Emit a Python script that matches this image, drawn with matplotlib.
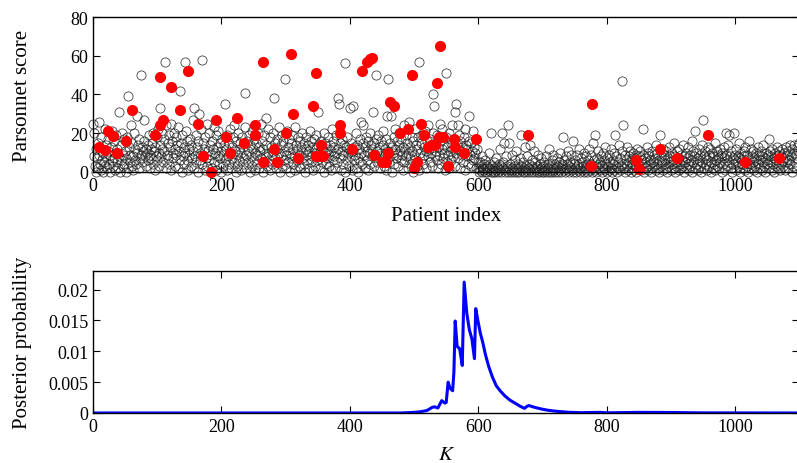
import matplotlib
matplotlib.use('Agg')
import matplotlib.pyplot as plt

plt.rcParams['font.family'] = ['Liberation Serif', 'DejaVu Serif']
plt.rcParams['mathtext.fontset'] = 'stix'

# Puntuación Parsonnet de cada paciente (índice = posición en la lista)
scores = [
    25, 8, 20, 3, 0, 12, 7, 2, 15, 9, 26, 4, 1, 18, 6, 0, 10, 5, 22, 3, 14, 8, 2, 11, 17,
    4, 9, 0, 13, 6, 21, 3, 16, 7, 1, 10, 19, 5, 12, 2, 8, 31, 0, 14, 6, 20, 3, 9, 17, 4,
    11, 0, 7, 18, 2, 39, 13, 5, 9, 24, 3, 15, 8, 1, 20, 6, 12, 4, 29, 10, 14, 2, 17, 7, 50,
    9, 13, 5, 11, 16, 27, 8, 12, 3, 10, 14, 6, 19, 9, 2, 12, 7, 15, 4, 20, 11, 1, 13, 8, 18,
    6, 22, 10, 3, 33, 14, 8, 20, 12, 5, 17, 11, 57, 2, 24, 9, 15, 7, 19, 4, 13, 25, 1, 16, 10,
    7, 20, 3, 12, 18, 9, 14, 2, 23, 11, 6, 42, 15, 0, 19, 8, 13, 4, 57, 10, 21, 6, 16, 1, 12,
    9, 17, 3, 14, 7, 27, 11, 2, 33, 8, 19, 5, 13, 16, 0, 30, 10, 6, 22, 58, 4, 15, 9, 12, 1,
    18, 7, 25, 3, 11, 20, 6, 14, 0, 9, 16, 2, 12, 23, 5, 10, 19, 1, 13, 8, 21, 4, 15, 7, 11,
    0, 17, 9, 3, 14, 35, 6, 12, 1, 19, 8, 15, 4, 10, 22, 2, 13, 7, 18, 5, 24, 11, 0, 16, 9,
    3, 20, 12, 6, 15, 1, 10, 18, 4, 13, 7, 23, 41, 9, 2, 16, 11, 5, 19, 0, 14, 8, 21, 3, 12,
    6, 17, 10, 1, 15, 9, 4, 20, 13, 2, 11, 7, 25, 16, 0, 12, 5, 19, 8, 14, 28, 3, 10, 22, 6,
    18, 1, 13, 9, 4, 20, 11, 38, 7, 15, 2, 12, 17, 5, 10, 23, 0, 14, 8, 19, 3, 16, 6, 11, 48,
    9, 2, 21, 13, 5, 17, 0, 10, 15, 7, 19, 4, 12, 8, 23, 1, 14, 6, 11, 18, 3, 9, 16, 2, 13,
    7, 20, 10, 4, 15, 0, 12, 18, 6, 9, 14, 2, 11, 21, 5, 16, 8, 13, 1, 17, 10, 3, 12, 19, 6,
    14, 31, 9, 2, 11, 16, 5, 13, 8, 20, 0, 10, 15, 4, 12, 7, 18, 3, 9, 14, 1, 11, 22, 6, 16,
    8, 13, 2, 10, 19, 5, 12, 38, 35, 7, 15, 1, 11, 17, 4, 9, 14, 0, 56, 13, 6, 18, 10, 3, 12,
    33, 8, 15, 1, 11, 34, 6, 13, 9, 20, 2, 14, 7, 0, 12, 17, 5, 10, 26, 4, 24, 15, 9, 2, 13,
    18, 6, 11, 16, 1, 10, 20, 4, 14, 8, 12, 31, 3, 15, 9, 50, 17, 5, 11, 19, 7, 13, 2, 16, 10,
    6, 14, 21, 3, 12, 9, 17, 1, 29, 48, 11, 5, 15, 8, 29, 13, 0, 10, 18, 4, 12, 22, 7, 16, 9,
    3, 14, 20, 11, 6, 17, 9, 1, 13, 24, 5, 12, 19, 8, 15, 2, 10, 26, 7, 13, 4, 18, 11, 0, 16,
    9, 22, 6, 14, 3, 12, 18, 1, 57, 10, 25, 15, 7, 19, 4, 13, 9, 21, 11, 2, 16, 8, 24, 12, 5,
    17, 10, 14, 3, 20, 40, 34, 8, 15, 11, 6, 19, 2, 13, 9, 25, 16, 4, 12, 22, 7, 14, 10, 1, 51,
    18, 5, 13, 9, 20, 2, 11, 15, 6, 24, 12, 8, 17, 3, 31, 10, 35, 14, 24, 7, 19, 2, 16, 11, 9,
    13, 5, 18, 10, 22, 1, 14, 8, 12, 4, 16, 29, 9, 15, 3, 11, 21, 6, 13, 7, 10, 17, 2, 12, 5,
    2, 0, 5, 1, 3, 0, 8, 2, 1, 4, 0, 6, 2, 3, 0, 1, 10, 2, 4, 0, 20, 3, 1, 0, 5,
    2, 0, 7, 1, 3, 2, 0, 4, 12, 1, 0, 3, 20, 2, 5, 15, 0, 1, 8, 3, 2, 24, 0, 15, 1,
    4, 0, 2, 9, 1, 3, 0, 6, 2, 11, 0, 1, 4, 2, 0, 7, 3, 19, 1, 0, 5, 2, 13, 0, 3,
    1, 8, 0, 2, 4, 14, 1, 0, 3, 6, 2, 0, 11, 1, 5, 2, 0, 3, 9, 1, 0, 4, 2, 7, 0,
    3, 1, 5, 0, 2, 8, 1, 0, 4, 2, 12, 0, 3, 1, 6, 0, 2, 9, 1, 4, 0, 2, 7, 3, 0,
    5, 1, 10, 2, 0, 4, 3, 18, 1, 6, 0, 2, 8, 4, 1, 11, 0, 3, 5, 2, 9, 1, 0, 16, 4,
    2, 6, 0, 3, 9, 1, 4, 12, 0, 2, 7, 1, 5, 3, 0, 10, 2, 8, 1, 4, 0, 6, 3, 12, 1,
    4, 9, 0, 2, 15, 6, 1, 19, 3, 0, 7, 2, 11, 4, 1, 5, 8, 0, 3, 10, 2, 6, 1, 13, 4,
    0, 7, 3, 9, 1, 5, 12, 2, 0, 6, 4, 10, 1, 19, 3, 8, 0, 5, 2, 14, 1, 7, 3, 11, 47,
    4, 24, 2, 9, 0, 6, 13, 3, 1, 8, 5, 11, 2, 0, 7, 4, 10, 1, 6, 3, 9, 0, 12, 5, 2,
    8, 3, 11, 1, 6, 4, 9, 22, 0, 5, 7, 2, 13, 3, 10, 1, 8, 4, 6, 0, 11, 2, 5, 9, 3,
    7, 1, 14, 4, 10, 2, 6, 0, 19, 3, 8, 5, 12, 1, 9, 4, 6, 2, 11, 0, 7, 3, 13, 5, 8,
    1, 10, 4, 6, 2, 15, 0, 8, 3, 11, 5, 7, 1, 12, 4, 9, 2, 6, 14, 3, 0, 8, 5, 10, 2,
    7, 4, 13, 1, 9, 3, 6, 16, 0, 11, 5, 8, 21, 2, 10, 4, 7, 1, 12, 6, 3, 9, 0, 14, 5,
    27, 8, 2, 11, 4, 7, 1, 13, 6, 9, 3, 12, 0, 5, 10, 2, 8, 4, 15, 1, 6, 11, 3, 7, 9,
    2, 12, 5, 8, 0, 10, 4, 7, 13, 1, 9, 20, 3, 6, 14, 19, 5, 8, 2, 11, 0, 7, 4, 20, 6,
    9, 1, 12, 5, 8, 3, 15, 0, 7, 10, 4, 6, 2, 11, 8, 1, 13, 5, 3, 9, 0, 16, 6, 4, 12,
    2, 8, 5, 11, 1, 7, 3, 10, 6, 0, 13, 4, 9, 2, 6, 11, 1, 8, 5, 14, 3, 7, 0, 10, 4,
    6, 9, 17, 2, 11, 5, 8, 1, 12, 4, 7, 0, 10, 3, 6, 13, 2, 9, 5, 11, 1, 8, 4, 12, 6,
    3, 10, 7, 1, 13, 5, 9, 2, 11, 6, 14, 4, 8, 0, 12, 3, 10, 14, 5, 9, 2, 13, 7, 11, 15,
]

# Pacientes marcados en rojo (índice y puntuación)
red_idx = [10, 19, 24, 31, 38, 52, 60, 97, 104, 104, 109, 122, 135, 148, 164, 172,
           184, 191, 207, 214, 225, 235, 252, 253, 264, 265, 282, 287, 301, 309,
           311, 319, 343, 348, 355, 347, 354, 358, 384, 385, 404, 419, 426, 431,
           434, 437, 450, 457, 460, 463, 468, 478, 491, 496, 500, 505, 511, 515,
           521, 527, 532, 536, 541, 539, 545, 553, 562, 564, 578, 596, 677, 775,
           777, 846, 850, 883, 909, 958, 1015, 1069]
red_score = [13, 11.5, 21, 18.5, 10, 16, 32, 19, 49, 24, 27, 44, 32, 52, 25, 8,
             0, 27, 18, 10, 28, 15, 24, 19, 57, 5, 12, 5, 20, 61,
             30, 7, 34, 51, 14, 8, 8, 8, 24, 20, 12, 52, 57, 58.5,
             59, 9, 5, 5, 10, 36, 34, 20, 22, 50, 2, 5, 25, 19,
             13, 14, 14, 46, 65, 18, 18, 3, 17, 13, 10, 17, 19, 3,
             35, 6, 1.5, 12, 7, 19, 5, 7]

# Probabilidad posterior de K
K_vals = [0, 480, 490, 500, 510, 520, 528, 532, 537, 543, 548, 550, 553, 556,
          560, 562, 564, 567, 571, 575, 578, 582, 586, 590, 594, 596, 600, 603,
          607, 611, 616, 622, 628, 634, 641, 649, 657, 665, 672, 676, 679, 688,
          698, 708, 719, 740, 760, 790, 800, 850, 900, 950, 1100]
post_vals = [0, 0, 0.00005, 0.0001, 0.0002, 0.0004, 0.0009, 0.001, 0.0008, 0.002,
             0.0016, 0.0017, 0.005, 0.004, 0.0036, 0.0066, 0.0149, 0.0108, 0.0104,
             0.0077, 0.0212, 0.0162, 0.0135, 0.012, 0.0088, 0.0169, 0.0146, 0.013,
             0.0114, 0.0095, 0.0076, 0.0058, 0.0044, 0.0036, 0.0028, 0.0021,
             0.0016, 0.0011, 0.00075, 0.0011, 0.0012, 0.0009, 0.00065, 0.00045,
             0.0003, 0.00012, 0.00005, 0.0001, 0.00003, 0.0001, 0.00008, 0.00002, 0]

fig = plt.figure(figsize=(7.97, 4.64), dpi=100)
ax1 = fig.add_axes([0.1167, 0.6272, 0.8863, 0.334])
ax2 = fig.add_axes([0.1167, 0.1078, 0.8863, 0.306])

# Panel superior: puntuaciones
ax1.plot(range(len(scores)), scores, 'o', mfc='none', mec='#222222', mew=0.5,
         ms=6.6, clip_on=False)
ax1.plot(red_idx, red_score, 'o', color='red', mec='red', ms=7, clip_on=False)
ax1.set_xlim(0, 1100)
ax1.set_ylim(0, 80)
ax1.set_yticks([0, 20, 40, 60, 80])
ax1.set_xticks([0, 200, 400, 600, 800, 1000])
ax1.set_xlabel('Patient index', fontsize=15)
ax1.set_ylabel('Parsonnet score', fontsize=15)
ax1.xaxis.set_label_coords(0.5, -0.22)
ax1.yaxis.set_label_coords(-0.087, 0.5)

# Panel inferior: probabilidad posterior
ax2.plot(K_vals, post_vals, color='blue', lw=2.2)
ax2.set_xlim(0, 1100)
ax2.set_ylim(0, 0.023)
ax2.set_yticks([0, 0.005, 0.01, 0.015, 0.02])
ax2.set_yticklabels(['0', '0.005', '0.01', '0.015', '0.02'])
ax2.set_xticks([0, 200, 400, 600, 800, 1000])
ax2.set_xlabel('$K$', fontsize=15)
ax2.set_ylabel('Posterior probability', fontsize=15)
ax2.xaxis.set_label_coords(0.5, -0.225)
ax2.yaxis.set_label_coords(-0.087, 0.5)

for ax in (ax1, ax2):
    ax.tick_params(direction='in', top=True, right=True, length=5,
                   labelsize=13, width=0.8)
    for s in ax.spines.values():
        s.set_linewidth(1.0)

fig.savefig('out.png', dpi=100)
